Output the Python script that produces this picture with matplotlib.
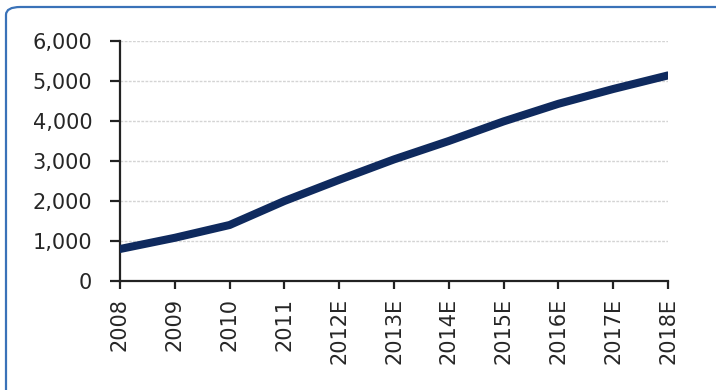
import matplotlib
matplotlib.use("Agg")
import matplotlib.pyplot as plt
from matplotlib.patches import FancyBboxPatch

years = ["2008", "2009", "2010", "2011", "2012E", "2013E", "2014E",
         "2015E", "2016E", "2017E", "2018E"]
values = [800, 1080, 1400, 2000, 2530, 3040, 3500, 3990, 4430, 4800, 5140]
y_ticks = [0, 1000, 2000, 3000, 4000, 5000, 6000]
y_labels = ["0", "1,000", "2,000", "3,000", "4,000", "5,000", "6,000"]

plt.rcParams["font.family"] = ["DejaVu Sans"]

fig = plt.figure(figsize=(7.16, 3.90), dpi=100)
fig.patch.set_facecolor("white")

# rounded blue frame, open to the right and bottom
frame = FancyBboxPatch((6 / 716, -0.2), 1.2, 0.2 + (390 - 7) / 390,
                       boxstyle="round,pad=0,rounding_size=0.02",
                       transform=fig.transFigure, fill=False,
                       edgecolor="#3a72b8", linewidth=1.6, zorder=0)
fig.patches.append(frame)

ax = fig.add_axes([120 / 716, 1 - 281 / 390, (668 - 120) / 716, (281 - 41) / 390])
x = list(range(len(years)))
ax.plot(x, values, color="#0f2a5e", linewidth=5.8, solid_capstyle="round",
        solid_joinstyle="round", zorder=3)

ax.set_xlim(0, len(years) - 1)
ax.set_ylim(0, 6000)
ax.set_yticks(y_ticks)
ax.set_yticklabels(y_labels)
ax.set_xticks(x)
ax.set_xticklabels(years, rotation=90)

ax.grid(axis="y", color="#d4d4d4", linewidth=1.0, linestyle=(0, (2, 1)))
ax.set_axisbelow(True)
for s in ("top", "right"):
    ax.spines[s].set_visible(False)
for s in ("left", "bottom"):
    ax.spines[s].set_color("#222222")
    ax.spines[s].set_linewidth(1.6)
ax.tick_params(axis="both", direction="out", width=1.6,
               color="#222222", labelcolor="#262626", labelsize=15)
ax.tick_params(axis="y", length=7, pad=13)
ax.tick_params(axis="x", length=6, pad=6)

fig.savefig("out.png", dpi=100, facecolor="white")
